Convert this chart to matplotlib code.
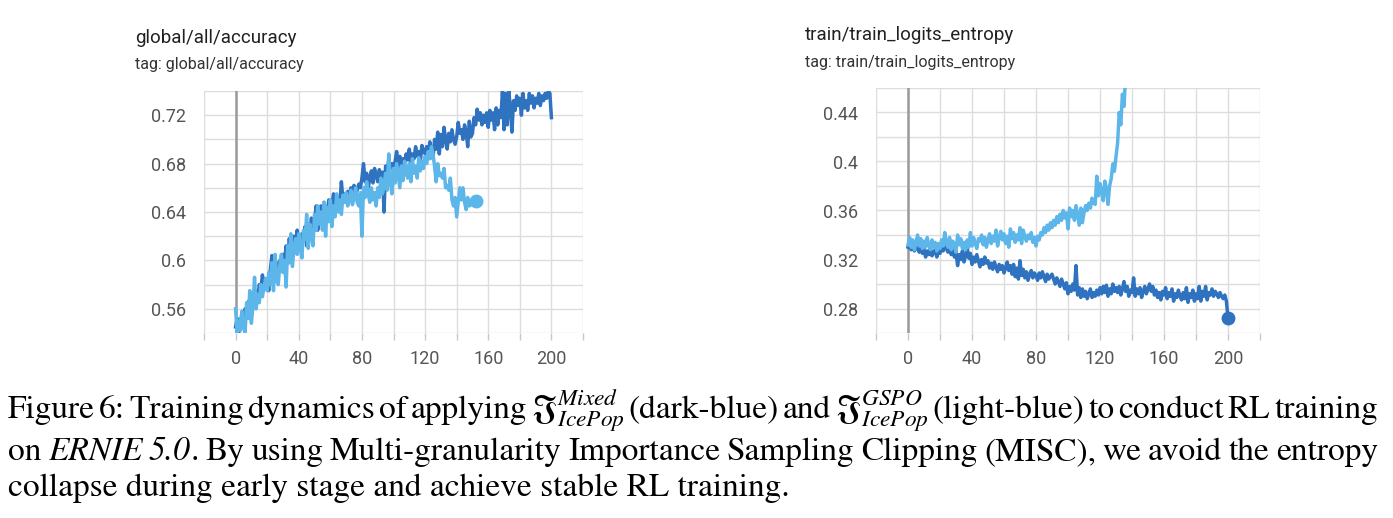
import numpy as np
import matplotlib
matplotlib.use("Agg")
import matplotlib.pyplot as plt

'''chart values'''

# accuracy, dark blue (Mixed IcePop), steps 0..200
acc_dark = [
    0.545, 0.552, 0.540, 0.548, 0.556, 0.545, 0.560, 0.553, 0.566, 0.558,
    0.562, 0.570, 0.565, 0.574, 0.568, 0.580, 0.576, 0.588, 0.578, 0.585,
    0.582, 0.575, 0.592, 0.604, 0.590, 0.583, 0.598, 0.588, 0.600, 0.596,
    0.605, 0.598, 0.612, 0.600, 0.618, 0.608, 0.605, 0.620, 0.612, 0.625,
    0.615, 0.610, 0.622, 0.618, 0.628, 0.612, 0.630, 0.622, 0.635, 0.627,
    0.632, 0.645, 0.625, 0.638, 0.645, 0.630, 0.648, 0.640, 0.636, 0.650,
    0.642, 0.646, 0.655, 0.648, 0.642, 0.652, 0.646, 0.665, 0.650, 0.655,
    0.648, 0.657, 0.652, 0.660, 0.650, 0.662, 0.655, 0.658, 0.663, 0.660,
    0.668, 0.680, 0.665, 0.672, 0.660, 0.668, 0.674, 0.664, 0.676, 0.670,
    0.665, 0.675, 0.668, 0.673, 0.640, 0.678, 0.670, 0.684, 0.676, 0.680,
    0.675, 0.682, 0.690, 0.678, 0.686, 0.675, 0.684, 0.680, 0.688, 0.683,
    0.692, 0.680, 0.688, 0.684, 0.694, 0.686, 0.690, 0.682, 0.695, 0.690,
    0.688, 0.694, 0.686, 0.698, 0.690, 0.684, 0.700, 0.692, 0.706, 0.688,
    0.704, 0.694, 0.710, 0.700, 0.692, 0.705, 0.698, 0.708, 0.700, 0.696,
    0.702, 0.714, 0.705, 0.708, 0.700, 0.712, 0.706, 0.694, 0.715, 0.702,
    0.705, 0.718, 0.712, 0.725, 0.716, 0.722, 0.712, 0.720, 0.714, 0.722,
    0.710, 0.724, 0.716, 0.722, 0.708, 0.726, 0.712, 0.724, 0.718, 0.740,
    0.708, 0.738, 0.712, 0.740, 0.726, 0.706, 0.732, 0.724, 0.736, 0.728,
    0.734, 0.720, 0.738, 0.726, 0.732, 0.724, 0.738, 0.730, 0.736, 0.726,
    0.734, 0.730, 0.738, 0.728, 0.736, 0.732, 0.738, 0.734, 0.740, 0.738,
    0.718,
]

# accuracy, light blue (GSPO IcePop), steps 0..152
acc_light = [
    0.560, 0.540, 0.550, 0.542, 0.558, 0.545, 0.540, 0.565, 0.552, 0.575,
    0.548, 0.562, 0.586, 0.560, 0.572, 0.565, 0.580, 0.570, 0.578, 0.585,
    0.575, 0.590, 0.580, 0.598, 0.575, 0.605, 0.585, 0.580, 0.596, 0.605,
    0.590, 0.600, 0.578, 0.612, 0.598, 0.622, 0.595, 0.610, 0.618, 0.605,
    0.622, 0.610, 0.602, 0.625, 0.617, 0.638, 0.610, 0.630, 0.620, 0.612,
    0.638, 0.625, 0.645, 0.630, 0.640, 0.625, 0.648, 0.620, 0.644, 0.632,
    0.650, 0.628, 0.645, 0.636, 0.655, 0.640, 0.650, 0.638, 0.654, 0.648,
    0.656, 0.645, 0.650, 0.658, 0.646, 0.652, 0.660, 0.648, 0.645, 0.656,
    0.620, 0.660, 0.652, 0.665, 0.655, 0.648, 0.660, 0.650, 0.656, 0.645,
    0.660, 0.652, 0.668, 0.655, 0.662, 0.672, 0.658, 0.688, 0.665, 0.655,
    0.676, 0.664, 0.680, 0.670, 0.660, 0.678, 0.666, 0.682, 0.672, 0.668,
    0.680, 0.665, 0.684, 0.672, 0.678, 0.668, 0.685, 0.674, 0.682, 0.676,
    0.686, 0.680, 0.690, 0.684, 0.694, 0.688, 0.678, 0.665, 0.680, 0.670,
    0.672, 0.668, 0.676, 0.660, 0.662, 0.658, 0.668, 0.650, 0.645, 0.652,
    0.636, 0.648, 0.660, 0.650, 0.660, 0.648, 0.642, 0.652, 0.645, 0.646,
    0.648, 0.650, 0.649,
]

# entropy, light blue, steps 0..136 (runs off the top)
ent_light = [
    0.332, 0.338, 0.330, 0.336, 0.328, 0.334, 0.340, 0.331, 0.337, 0.329,
    0.335, 0.330, 0.338, 0.332, 0.328, 0.336, 0.330, 0.334, 0.327, 0.333,
    0.329, 0.336, 0.331, 0.342, 0.333, 0.330, 0.338, 0.328, 0.335, 0.331,
    0.326, 0.340, 0.332, 0.337, 0.329, 0.334, 0.328, 0.336, 0.330, 0.342,
    0.331, 0.338, 0.333, 0.329, 0.337, 0.335, 0.340, 0.332, 0.338, 0.330,
    0.336, 0.341, 0.333, 0.339, 0.335, 0.344, 0.331, 0.338, 0.343, 0.336,
    0.341, 0.333, 0.339, 0.330, 0.345, 0.337, 0.342, 0.334, 0.340, 0.336,
    0.346, 0.333, 0.344, 0.339, 0.335, 0.340, 0.337, 0.342, 0.334, 0.338,
    0.331, 0.339, 0.336, 0.342, 0.340, 0.346, 0.342, 0.348, 0.344, 0.350,
    0.346, 0.352, 0.348, 0.355, 0.350, 0.357, 0.352, 0.360, 0.354, 0.358,
    0.345, 0.362, 0.355, 0.360, 0.352, 0.364, 0.356, 0.348, 0.362, 0.350,
    0.358, 0.364, 0.360, 0.366, 0.362, 0.370, 0.366, 0.365, 0.388, 0.372,
    0.382, 0.376, 0.368, 0.384, 0.378, 0.365, 0.380, 0.386, 0.398, 0.392,
    0.404, 0.415, 0.440, 0.430, 0.455, 0.445, 0.470,
]

# entropy, dark blue, steps 0..200
ent_dark = [
    0.330, 0.333, 0.328, 0.332, 0.327, 0.331, 0.329, 0.326, 0.330, 0.325,
    0.328, 0.322, 0.327, 0.324, 0.329, 0.323, 0.326, 0.328, 0.322, 0.327,
    0.325, 0.330, 0.327, 0.333, 0.329, 0.326, 0.331, 0.324, 0.328, 0.322,
    0.326, 0.315, 0.324, 0.320, 0.327, 0.318, 0.323, 0.330, 0.321, 0.325,
    0.316, 0.322, 0.318, 0.324, 0.319, 0.314, 0.320, 0.316, 0.322, 0.317,
    0.319, 0.313, 0.317, 0.312, 0.318, 0.314, 0.310, 0.316, 0.312, 0.315,
    0.309, 0.313, 0.318, 0.311, 0.315, 0.308, 0.316, 0.306, 0.313, 0.304,
    0.319, 0.307, 0.312, 0.305, 0.310, 0.303, 0.308, 0.311, 0.305, 0.309,
    0.307, 0.303, 0.309, 0.305, 0.310, 0.306, 0.302, 0.308, 0.304, 0.306,
    0.308, 0.304, 0.300, 0.305, 0.302, 0.298, 0.304, 0.300, 0.296, 0.301,
    0.292, 0.298, 0.294, 0.300, 0.295, 0.315, 0.291, 0.297, 0.289, 0.296,
    0.290, 0.294, 0.288, 0.292, 0.296, 0.289, 0.293, 0.290, 0.295, 0.291,
    0.297, 0.292, 0.298, 0.293, 0.299, 0.290, 0.296, 0.292, 0.300, 0.294,
    0.297, 0.293, 0.298, 0.291, 0.296, 0.302, 0.294, 0.298, 0.290, 0.295,
    0.293, 0.305, 0.290, 0.296, 0.292, 0.297, 0.289, 0.294, 0.298, 0.292,
    0.296, 0.300, 0.294, 0.298, 0.291, 0.295, 0.289, 0.293, 0.287, 0.294,
    0.291, 0.297, 0.288, 0.293, 0.290, 0.296, 0.286, 0.292, 0.289, 0.295,
    0.290, 0.287, 0.293, 0.288, 0.297, 0.285, 0.292, 0.289, 0.295, 0.286,
    0.292, 0.288, 0.298, 0.286, 0.294, 0.290, 0.298, 0.287, 0.293, 0.291,
    0.296, 0.290, 0.294, 0.292, 0.289, 0.293, 0.290, 0.288, 0.291, 0.286,
    0.272,
]

acc_yticks = [0.56, 0.6, 0.64, 0.68, 0.72]
acc_ylabels = ["0.56", "0.6", "0.64", "0.68", "0.72"]
ent_yticks = [0.28, 0.32, 0.36, 0.4, 0.44]
ent_ylabels = ["0.28", "0.32", "0.36", "0.4", "0.44"]

# caption lines: list of (word, italic?)
cap_line1 = [("Figure", 0), ("6:", 0), ("Training", 0), ("dynamics", 0), ("of", 0), ("applying", 0),
             (r"$\mathfrak{J}^{Mixed}_{IcePop}$", 0), ("(dark-blue)", 0), ("and", 0),
             (r"$\mathfrak{J}^{GSPO}_{IcePop}$", 0), ("(light-blue)", 0), ("to", 0), ("conduct", 0),
             ("RL", 0), ("training", 0)]
cap_line2 = [("on", 0), ("ERNIE", 1), ("5.0", 1), (".", 0), ("By", 0), ("using", 0), ("Multi-granularity", 0),
             ("Importance", 0), ("Sampling", 0), ("Clipping", 0), ("(MISC),", 0), ("we", 0), ("avoid", 0),
             ("the", 0), ("entropy", 0)]
cap_line3 = "collapse during early stage and achieve stable RL training."

DARK = "#2f72c0"
LIGHT = "#5cb6ea"
W, H = 1393, 518

plt.rcParams['font.family'] = ['Roboto', 'DejaVu Sans']
plt.rcParams['mathtext.fontset'] = 'stix'

fig = plt.figure(figsize=(W / 100, H / 100), dpi=100)
renderer = fig.canvas.get_renderer()


def px_axes(x0, y0, x1, y1):
    # pixel box (top-left origin) -> figure fraction axes
    return fig.add_axes([x0 / W, 1 - y1 / H, (x1 - x0) / W, (y1 - y0) / H])


def style(ax, ylim, yticks, ylabels):
    ax.set_xlim(-20, 220)
    ax.set_ylim(*ylim)
    for s in ax.spines.values():
        s.set_visible(False)
    # grid every 20 steps / every 0.02
    for gx in range(-20, 221, 20):
        ax.axvline(gx, color="#dcdcdc", lw=1.0, zorder=0)
    for gy in np.arange(ylim[0], ylim[1] + 1e-9, 0.02):
        ax.axhline(gy, color="#dcdcdc", lw=1.0, zorder=0)
    ax.axvline(0, color="#9a9a9a", lw=1.8, zorder=1)
    ax.set_xticks(range(-20, 221, 20))
    ax.set_xticklabels(["" if (t % 40 or t < 0 or t > 200) else str(t) for t in range(-20, 221, 20)])
    ax.tick_params(axis="x", length=5, width=1, color="#c8c8c8", labelsize=13,
                   labelcolor="#555555", pad=7)
    ax.set_yticks(yticks)
    ax.set_yticklabels(ylabels)
    ax.tick_params(axis="y", length=0, labelsize=13, labelcolor="#555555", pad=13)


# accuracy panel
ax1 = px_axes(204, 91, 583, 333)
style(ax1, (0.54, 0.74), acc_yticks, acc_ylabels)
ax1.plot(range(len(acc_dark)), acc_dark, color=DARK, lw=2.5, zorder=3)
ax1.plot(range(len(acc_light)), acc_light, color=LIGHT, lw=2.5, zorder=4)
ax1.plot(len(acc_light) - 1, acc_light[-1], "o", color=LIGHT, ms=9, zorder=5)

# entropy panel
ax2 = px_axes(876, 88, 1260, 333)
style(ax2, (0.26, 0.46), ent_yticks, ent_ylabels)
ax2.plot(range(len(ent_dark)), ent_dark, color=DARK, lw=2.5, zorder=3)
ax2.plot(range(len(ent_light)), ent_light, color=LIGHT, lw=2.5, zorder=4)
ax2.plot(len(ent_dark) - 1, ent_dark[-1], "o", color=DARK, ms=9, zorder=5, clip_on=False)

# panel titles
fig.text(135 / W, 1 - 38 / H, "global/all/accuracy", fontsize=13.5, color="#212121", va="center")
fig.text(135 / W, 1 - 65 / H, "tag: global/all/accuracy", fontsize=11.5, color="#333333", va="center")
fig.text(805 / W, 1 - 35 / H, "train/train_logits_entropy", fontsize=13.5, color="#212121", va="center")
fig.text(805 / W, 1 - 62 / H, "tag: train/train_logits_entropy", fontsize=11.5, color="#333333", va="center")

# caption (justified lines)
CAP = dict(family=['STIXGeneral', 'DejaVu Serif'], fontsize=24, color="black", va="baseline")
X0, X1 = 8, 1378


def justified(words, y_base):
    texts = []
    for w, it in words:
        t = fig.text(0, 1 - y_base / H, w, style="italic" if it else "normal", **CAP)
        texts.append(t)
    widths = [t.get_window_extent(renderer).width for t in texts]
    # "." after 5.0 sticks to the word before it
    glue = [w == "." for w, _ in words]
    n_gaps = sum(1 for g in glue[1:] if not g)
    gap = (X1 - X0 - sum(widths)) / n_gaps
    x = X0
    for i, t in enumerate(texts):
        if i > 0 and not glue[i]:
            x += gap
        t.set_x(x / W)
        x += widths[i]


justified(cap_line1, 418)
justified(cap_line2, 460)
fig.text(X0 / W, 1 - 496 / H, cap_line3, **CAP)

fig.savefig("out.png", dpi=100)
